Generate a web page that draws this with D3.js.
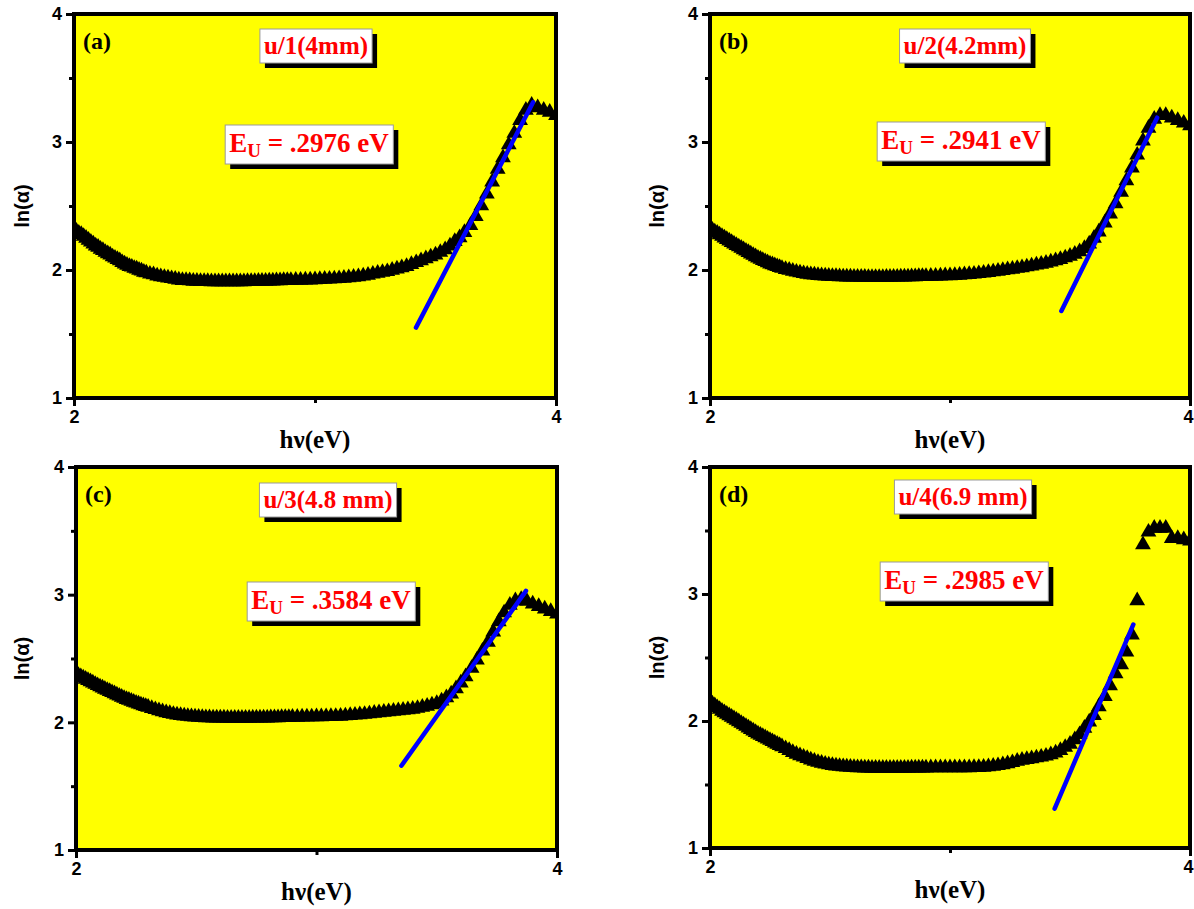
<!DOCTYPE html>
<html>
<head>
<meta charset="utf-8">
<script src="https://cdn.jsdelivr.net/npm/d3@7"></script>
<style>
  body { margin: 0; background: #fff; }
  svg { display: block; }
  text { white-space: pre; }
</style>
</head>
<body>
<svg id="chart" width="1194" height="909"></svg>
<script>
// Photon energy grid shared by all four samples (eV)
const energy = [
  2.00,2.01,2.02,2.03,2.04,2.05,2.06,2.07,2.08,2.09,
  2.10,2.11,2.12,2.13,2.14,2.15,2.16,2.17,2.18,2.19,
  2.20,2.21,2.22,2.23,2.24,2.25,2.26,2.27,2.28,2.29,2.30,
  2.315,2.33,2.345,2.36,2.375,2.39,2.405,2.42,2.435,2.45,
  2.465,2.48,2.495,2.51,2.525,2.54,2.555,2.57,2.585,2.60,
  2.615,2.63,2.645,2.66,2.675,2.69,2.705,2.72,2.735,2.75,
  2.765,2.78,2.795,2.81,2.825,2.84,2.855,2.87,2.885,2.90,
  2.92,2.94,2.96,2.98,3.00,3.02,3.04,3.06,3.08,3.10,
  3.12,3.14,3.16,3.18,3.20,3.22,3.24,3.26,3.28,3.30,
  3.32,3.34,3.36,3.38,3.40,3.42,3.44,3.46,3.48,3.50,
  3.52,3.54,3.56,3.58,3.60,3.62,3.645,3.667,3.69,3.713,
  3.735,3.758,3.78,3.804,3.827,3.851,3.875,3.899,3.924,3.949,
  3.974,4.00
];

// ln(alpha) for each sample
const lnAlphaA = [
  2.33,2.315,2.30,2.29,2.275,2.26,2.245,2.23,2.215,2.20,
  2.19,2.175,2.165,2.15,2.14,2.13,2.115,2.105,2.095,2.085,
  2.07,2.06,2.05,2.04,2.035,2.025,2.02,2.01,2.005,1.995,1.99,
  1.98,1.975,1.965,1.96,1.955,1.95,1.945,1.94,1.935,1.93,
  1.93,1.928,1.925,1.925,1.923,1.922,1.922,1.92,1.92,1.92,
  1.92,1.92,1.92,1.92,1.92,1.92,1.92,1.922,1.922,1.923,
  1.924,1.925,1.925,1.926,1.927,1.928,1.929,1.93,1.93,1.931,
  1.932,1.933,1.934,1.935,1.936,1.938,1.94,1.941,1.943,1.945,
  1.948,1.952,1.956,1.96,1.965,1.972,1.98,1.987,1.994,2.00,
  2.01,2.02,2.03,2.04,2.055,2.07,2.085,2.10,2.115,2.13,
  2.15,2.17,2.20,2.235,2.265,2.305,2.36,2.43,2.515,2.605,
  2.70,2.80,2.89,2.99,3.08,3.18,3.26,3.30,3.28,3.26,
  3.245,3.22
];
const lnAlphaB = [
  2.335,2.323,2.31,2.299,2.287,2.275,2.263,2.251,2.239,2.227,
  2.215,2.204,2.193,2.182,2.171,2.16,2.149,2.138,2.127,2.116,
  2.105,2.096,2.087,2.078,2.069,2.06,2.053,2.046,2.039,2.032,2.025,
  2.017,2.01,2.003,1.996,1.99,1.984,1.979,1.976,1.973,1.97,
  1.968,1.966,1.964,1.962,1.961,1.96,1.959,1.958,1.958,1.957,
  1.957,1.956,1.956,1.955,1.955,1.955,1.955,1.955,1.956,1.956,
  1.957,1.957,1.958,1.958,1.959,1.96,1.96,1.961,1.962,1.962,
  1.963,1.964,1.965,1.967,1.968,1.97,1.972,1.975,1.977,1.98,
  1.984,1.988,1.993,1.998,2.003,2.008,2.014,2.019,2.025,2.03,
  2.037,2.044,2.051,2.058,2.065,2.075,2.085,2.095,2.107,2.12,
  2.135,2.155,2.18,2.215,2.26,2.31,2.38,2.45,2.53,2.62,
  2.71,2.81,2.91,3.02,3.12,3.19,3.22,3.22,3.20,3.18,
  3.16,3.14
];
const lnAlphaC = [
  2.39,2.38,2.37,2.36,2.35,2.34,2.33,2.32,2.31,2.30,
  2.29,2.281,2.272,2.263,2.254,2.245,2.236,2.227,2.218,2.209,
  2.20,2.192,2.185,2.177,2.17,2.163,2.156,2.149,2.143,2.136,2.13,
  2.121,2.112,2.103,2.095,2.088,2.081,2.075,2.07,2.066,2.062,
  2.059,2.056,2.054,2.052,2.05,2.049,2.048,2.047,2.046,2.046,
  2.046,2.045,2.045,2.045,2.045,2.045,2.045,2.045,2.046,2.046,
  2.046,2.047,2.047,2.048,2.048,2.049,2.05,2.05,2.051,2.052,
  2.053,2.054,2.054,2.055,2.056,2.056,2.057,2.058,2.059,2.06,
  2.063,2.066,2.069,2.072,2.075,2.079,2.083,2.087,2.091,2.095,
  2.099,2.103,2.107,2.111,2.115,2.122,2.13,2.139,2.149,2.16,
  2.18,2.205,2.235,2.275,2.32,2.37,2.435,2.50,2.57,2.64,
  2.72,2.80,2.87,2.93,2.965,2.975,2.96,2.94,2.92,2.90,
  2.88,2.86
];
const lnAlphaD = [
  2.16,2.146,2.132,2.118,2.104,2.09,2.078,2.066,2.054,2.042,
  2.03,2.018,2.006,1.994,1.982,1.97,1.958,1.946,1.934,1.922,
  1.91,1.90,1.89,1.88,1.87,1.86,1.85,1.84,1.83,1.82,1.81,
  1.795,1.78,1.765,1.751,1.739,1.728,1.717,1.706,1.696,1.687,
  1.68,1.673,1.667,1.662,1.658,1.655,1.652,1.65,1.648,1.646,
  1.645,1.644,1.643,1.642,1.641,1.641,1.64,1.64,1.64,1.64,
  1.64,1.64,1.641,1.641,1.641,1.642,1.642,1.643,1.643,1.643,
  1.644,1.644,1.644,1.645,1.645,1.645,1.645,1.645,1.645,1.646,
  1.647,1.649,1.652,1.656,1.661,1.668,1.676,1.685,1.695,1.703,
  1.71,1.716,1.722,1.728,1.736,1.747,1.76,1.78,1.805,1.83,
  1.865,1.905,1.955,2.005,2.055,2.125,2.205,2.29,2.385,2.455,
  2.555,2.69,2.96,3.40,3.50,3.53,3.53,3.53,3.45,3.45,
  3.44,3.43
];

// Linear fits of the absorption edge (end points)
const fitEnergyA = [3.419, 3.905];
const fitLnAlphaA = [1.55, 3.31];
const fitEnergyB = [3.464, 3.863];
const fitLnAlphaB = [1.68, 3.19];
const fitEnergyC = [3.353, 3.871];
const fitLnAlphaC = [1.66, 3.03];
const fitEnergyD = [3.436, 3.764];
const fitLnAlphaD = [1.31, 2.76];

// Axis ticks
const xTicks = [2, 4];
const xMinorTicks = [3];
const yTicks = [1, 2, 3, 4];
const yMinorTicks = [1.5, 2.5, 3.5];

// Labels
const panelTags = ["(a)", "(b)", "(c)", "(d)"];
const sampleLabels = ["u/1(4mm)", "u/2(4.2mm)", "u/3(4.8 mm)", "u/4(6.9 mm)"];
const urbachEnergies = [".2976", ".2941", ".3584", ".2985"];

const series = [lnAlphaA, lnAlphaB, lnAlphaC, lnAlphaD];
const fits = [
  [fitEnergyA, fitLnAlphaA],
  [fitEnergyB, fitLnAlphaB],
  [fitEnergyC, fitLnAlphaC],
  [fitEnergyD, fitLnAlphaD]
];

// Panel layout
const layout = [
  { left: 74,  right: 556,  top: 14,  bottom: 398, sample: { cx: 316, top: 29 },  eu: { cx: 309, top: 125 }, yTitleX: 29 },
  { left: 710, right: 1190, top: 14,  bottom: 398, sample: { cx: 965, top: 29 },  eu: { cx: 961, top: 122 }, yTitleX: 664 },
  { left: 76,  right: 557,  top: 467, bottom: 850, sample: { cx: 328, top: 483 }, eu: { cx: 331, top: 582 }, yTitleX: 29 },
  { left: 710, right: 1190, top: 467, bottom: 848, sample: { cx: 963, top: 480 }, eu: { cx: 964, top: 562 }, yTitleX: 664 }
];

const WIDTH = 1194;
const SANS = "'Liberation Sans', Arial, sans-serif";
const SERIF = "'Liberation Serif', 'Times New Roman', serif";

const svg = d3.select("#chart");
const defs = svg.append("defs");
const triangle = d3.symbol().type(d3.symbolTriangle).size(108);

function boxedLabel(g, cx, top, size, build) {
  const grp = g.append("g");
  const t = grp.append("text")
    .attr("x", cx).attr("y", top + size)
    .attr("text-anchor", "middle")
    .attr("font-family", SERIF).attr("font-weight", "bold")
    .attr("font-size", size).attr("fill", "#ff0000");
  build(t);
  const bb = t.node().getBBox();
  const bx = bb.x - 4, by = top, bw = bb.width + 8, bh = bb.height + 6;
  grp.insert("rect", "text")
    .attr("x", bx + 5).attr("y", by + 5).attr("width", bw).attr("height", bh)
    .attr("fill", "#000");
  grp.insert("rect", "text")
    .attr("x", bx).attr("y", by).attr("width", bw).attr("height", bh)
    .attr("fill", "#fff").attr("stroke", "#9a9a9a").attr("stroke-width", 1);
}

layout.forEach((L, i) => {
  const x = d3.scaleLinear().domain([2, 4]).range([L.left, L.right]);
  const y = d3.scaleLinear().domain([1, 4]).range([L.bottom, L.top]);
  const g = svg.append("g");

  // plot background
  g.append("rect")
    .attr("x", L.left).attr("y", L.top)
    .attr("width", L.right - L.left).attr("height", L.bottom - L.top)
    .attr("fill", "#ffff00");

  const clipId = "clip" + i;
  defs.append("clipPath").attr("id", clipId).append("rect")
    .attr("x", L.left).attr("y", L.top)
    .attr("width", L.right - L.left).attr("height", L.bottom - L.top);

  const plot = g.append("g").attr("clip-path", `url(#${clipId})`);

  // measured points
  const pts = energy.map((e, k) => [e, series[i][k]]);
  plot.selectAll("path.pt").data(pts).join("path")
    .attr("class", "pt")
    .attr("d", triangle)
    .attr("transform", d => `translate(${x(d[0])},${y(d[1]) + 1.5})`)
    .attr("fill", "#000");

  // linear fit
  const [fx, fy] = fits[i];
  const line = d3.line().x(d => x(d[0])).y(d => y(d[1]));
  plot.append("path")
    .datum(fx.map((v, k) => [v, fy[k]]))
    .attr("d", line)
    .attr("fill", "none").attr("stroke", "#0000ff")
    .attr("stroke-width", 4.5).attr("stroke-linecap", "round");

  // axes
  const yAxis = g.append("g").attr("transform", `translate(${L.left},0)`)
    .call(d3.axisLeft(y).tickValues(yTicks).tickSize(8).tickPadding(4).tickFormat(d3.format("d")));
  const yMinor = g.append("g").attr("transform", `translate(${L.left},0)`)
    .call(d3.axisLeft(y).tickValues(yMinorTicks).tickSize(5).tickFormat(""));
  const xAxis = g.append("g").attr("transform", `translate(0,${L.bottom})`)
    .call(d3.axisBottom(x).tickValues(xTicks).tickSize(8).tickPadding(4).tickFormat(d3.format("d")));
  const xMinor = g.append("g").attr("transform", `translate(0,${L.bottom})`)
    .call(d3.axisBottom(x).tickValues(xMinorTicks).tickSize(5).tickFormat(""));
  [yAxis, yMinor, xAxis, xMinor].forEach(a => {
    a.attr("font-size", null).attr("font-family", null);
    a.select(".domain").remove();
    a.selectAll(".tick line").attr("stroke", "#000").attr("stroke-width", 3);
    a.selectAll(".tick text")
      .style("font-family", SANS).style("font-weight", "bold")
      .style("font-size", "18px").attr("fill", "#000");
  });
  // keep an end label inside the page when the panel reaches the right edge
  xAxis.selectAll(".tick text").each(function (d) {
    const px = x(d);
    const w = this.getBBox().width;
    if (px + w / 2 > WIDTH - 1) {
      d3.select(this).attr("text-anchor", "end").attr("x", WIDTH - 1 - px);
    }
  });

  // frame
  g.append("rect")
    .attr("x", L.left).attr("y", L.top)
    .attr("width", L.right - L.left).attr("height", L.bottom - L.top)
    .attr("fill", "none").attr("stroke", "#000").attr("stroke-width", 4);

  // axis titles
  g.append("text")
    .attr("x", (L.left + L.right) / 2).attr("y", L.bottom + 50)
    .attr("text-anchor", "middle")
    .attr("font-family", SERIF).attr("font-weight", "bold").attr("font-size", 25)
    .text("hν(eV)");
  g.append("text")
    .attr("transform", `translate(${L.yTitleX},${(L.top + L.bottom) / 2}) rotate(-90)`)
    .attr("text-anchor", "middle")
    .attr("font-family", SANS).attr("font-weight", "bold").attr("font-size", 20)
    .text("ln(α)");

  // panel tag
  g.append("text")
    .attr("x", L.left + 9).attr("y", L.top + 35)
    .attr("font-family", SERIF).attr("font-weight", "bold").attr("font-size", 24)
    .attr("fill", "#000")
    .text(panelTags[i]);

  // sample label
  boxedLabel(g, L.sample.cx, L.sample.top, 25, t => t.text(sampleLabels[i]));

  // Urbach energy label
  boxedLabel(g, L.eu.cx, L.eu.top, 27, t => {
    t.append("tspan").text("E");
    t.append("tspan").attr("font-size", 19).attr("dy", 5).text("U");
    t.append("tspan").attr("dy", -5).text(" = " + urbachEnergies[i] + " eV");
  });
});
</script>
</body>
</html>
